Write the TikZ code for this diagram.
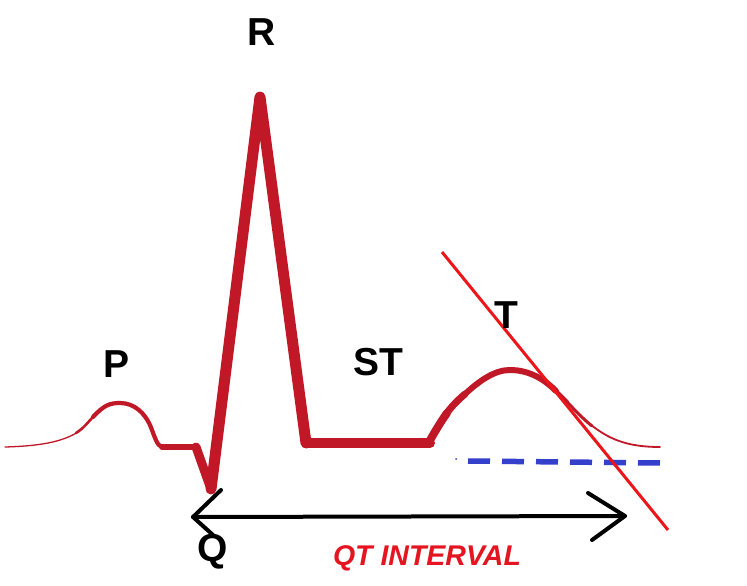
\documentclass[tikz,border=0pt]{standalone}
\usepackage{fontspec}
\setmainfont{Liberation Sans}
\definecolor{ecg}{RGB}{192,24,38}
\definecolor{tanred}{RGB}{236,22,26}
\definecolor{baseblue}{RGB}{52,64,204}
\definecolor{qtred}{RGB}{228,20,32}
\begin{document}
\begin{tikzpicture}[x=1pt,y=-1pt,
  wave/.style={draw=ecg,line cap=round,line join=round},
  wavelabel/.style={anchor=base,inner sep=0pt,font=\fontsize{39}{40}\selectfont\bfseries},
  qtlabel/.style={anchor=base,inner sep=0pt,text=qtred,font=\fontsize{28.5}{30}\selectfont\bfseries\itshape},
  arrowline/.style={draw=black,line width=4,line cap=round,line join=round},
  tangent/.style={draw=tanred,line width=3},
  baseline/.style={draw=baseblue,line width=5.5,dash pattern=on 22pt off 12pt}]
\useasboundingbox[fill=white] (0,0) rectangle (747,586);

% P wave
\draw[wave,line width=1.3] (5,447) .. controls (40,446) and (62,442) .. (78,432);
\draw[wave,line width=2.6] (76,433) .. controls (84,428) and (88,422) .. (94,416);
\draw[wave,line width=4.2] (93,417) .. controls (104,405) and (110,403) .. (120,403)
  .. controls (135,403) and (145,414) .. (150,425)
  .. controls (155,437) and (157,447) .. (163,447);
% PQ segment and QRS
\draw[wave,line width=6] (162,447) -- (196,447);
\draw[wave,line width=9] (196,447) -- (211,489);
\draw[wave,line width=11] (211,489) -- (260,97) -- (306,443);
\draw[wave,line width=10] (306,443) -- (430,443);
% T wave
\draw[wave,line width=8] (428,444) .. controls (434,433) and (440,423) .. (447,413);
\draw[wave,line width=7] (446,414) .. controls (452,406) and (458,400) .. (465,394);
\draw[wave,line width=6] (464,395) .. controls (480,380) and (495,370) .. (510,370)
  .. controls (530,370) and (545,380) .. (556,391);
\draw[wave,line width=4.2] (552,387) .. controls (558,393) and (562,397) .. (567,402);
\draw[wave,line width=3] (566,401) .. controls (575,410) and (582,418) .. (592,426);
\draw[wave,line width=1.8] (591,425) .. controls (608,438) and (625,447) .. (660,447);

% baseline (dashed)
\fill[baseblue] (456,459) circle (1);
\coordinate (b1) at (468,461);
\coordinate (b2) at (662,463);
\draw[baseline] (b1) -- (b2);

% tangent line
\coordinate (t1) at (442,252);
\coordinate (t2) at (668,530);
\draw[tangent] (t1) -- (t2);

% QT interval arrow
\coordinate (qa) at (193,517);
\coordinate (qb) at (625,516);
\draw[arrowline] (qa) -- (qb);
\draw[arrowline] (qa) ++(28,-27) -- (qa) -- ++(20,18);
\draw[arrowline] (qb) ++(-37,-23) -- (qb) -- ++(-33,24);

% labels
\node[wavelabel] (R) at (262,46) {R};
\node[wavelabel] (P) at (117,377) {P};
\node[wavelabel] (ST) at (378,375) {ST};
\node[wavelabel] (T) at (506,328) {T};
\node[wavelabel] (Q) at (213,561) {Q};
\node[qtlabel] (QT) at (427,565) {QT INTERVAL};
\end{tikzpicture}
\end{document}
